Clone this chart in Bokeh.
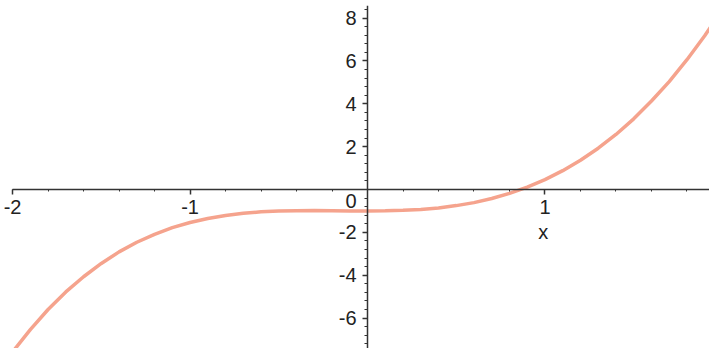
from bokeh.plotting import figure
from bokeh.models import Range1d, FixedTicker, Label
from bokeh.embed import file_html
from bokeh.resources import INLINE

# curve values
xs = [-2.0, -1.9, -1.8, -1.7, -1.6, -1.5, -1.4, -1.3, -1.2, -1.1, -1.0,
      -0.9, -0.8, -0.7, -0.6, -0.5, -0.4, -0.3, -0.2, -0.1, 0.0,
      0.1, 0.2, 0.3, 0.4, 0.5, 0.6, 0.7, 0.8, 0.9, 1.0,
      1.1, 1.2, 1.3, 1.4, 1.5, 1.6, 1.7, 1.8, 1.9, 2.0]
ys = [-7.58, -6.54, -5.60, -4.78, -4.07, -3.45, -2.91, -2.46, -2.09, -1.78, -1.54,
      -1.35, -1.21, -1.11, -1.04, -1.00, -0.99, -0.98, -0.99, -1.00, -1.00,
      -0.99, -0.97, -0.93, -0.86, -0.75, -0.61, -0.42, -0.18, 0.11, 0.46,
      0.88, 1.37, 1.93, 2.57, 3.30, 4.13, 5.04, 6.06, 7.18, 8.42]

x_ticks = [-2, -1, 1, 2]
x_tick_labels = ["-2", "-1", "1", "2"]
y_ticks = [-6, -4, -2, 2, 4, 6, 8]
y_tick_labels = ["-6", "-4", "-2", "2", "4", "6", "8"]
x_minor = [round(-2 + 0.2 * i, 2) for i in range(21)]
y_minor = [round(-7.2 + 0.4 * i, 2) for i in range(41)]

FONT = "Liberation Sans"
AX = "#333333"
TXT = "#222222"

p = figure(width=709, height=348, output_backend="svg", toolbar_location=None,
           x_range=Range1d(-2.068, 1.927), y_range=Range1d(-7.42, 8.59),
           min_border_left=0, min_border_right=0, min_border_top=5, min_border_bottom=0)
p.grid.visible = False
p.outline_line_color = None
p.background_fill_color = "white"

p.line(xs, ys, line_color="#F5A38D", line_width=3.5)

for ax in (p.xaxis[0], p.yaxis[0]):
    ax.fixed_location = 0
    ax.axis_line_color = AX
    ax.axis_line_width = 1.5
    ax.major_tick_line_color = AX
    ax.minor_tick_line_color = AX
    ax.major_tick_line_width = 1.5
    ax.major_tick_in = 0
    ax.major_tick_out = 5
    ax.minor_tick_in = 0
    ax.minor_tick_out = 3
    ax.major_label_text_font = FONT
    ax.major_label_text_font_size = "20px"
    ax.major_label_text_color = TXT

p.xaxis.ticker = FixedTicker(ticks=x_ticks, minor_ticks=x_minor)
p.yaxis.ticker = FixedTicker(ticks=y_ticks, minor_ticks=y_minor)
p.xaxis.major_label_overrides = {t: s for t, s in zip(x_ticks, x_tick_labels)}
p.yaxis.major_label_overrides = {t: s for t, s in zip(y_ticks, y_tick_labels)}
p.xaxis.bounds = (-2, 2)
p.xaxis.minor_tick_out = 2
p.xaxis.major_label_standoff = 5
p.yaxis.major_label_standoff = 6

p.add_layout(Label(x=0, y=0, text="0", x_offset=-11, y_offset=-11,
                   text_align="right", text_baseline="middle",
                   text_font=FONT, text_font_size="20px", text_color=TXT))
p.add_layout(Label(x=0.99, y=-2.0, text="x",
                   text_align="center", text_baseline="middle",
                   text_font=FONT, text_font_size="20px", text_color=TXT))

open("out.html", "w").write(file_html(p, INLINE))
